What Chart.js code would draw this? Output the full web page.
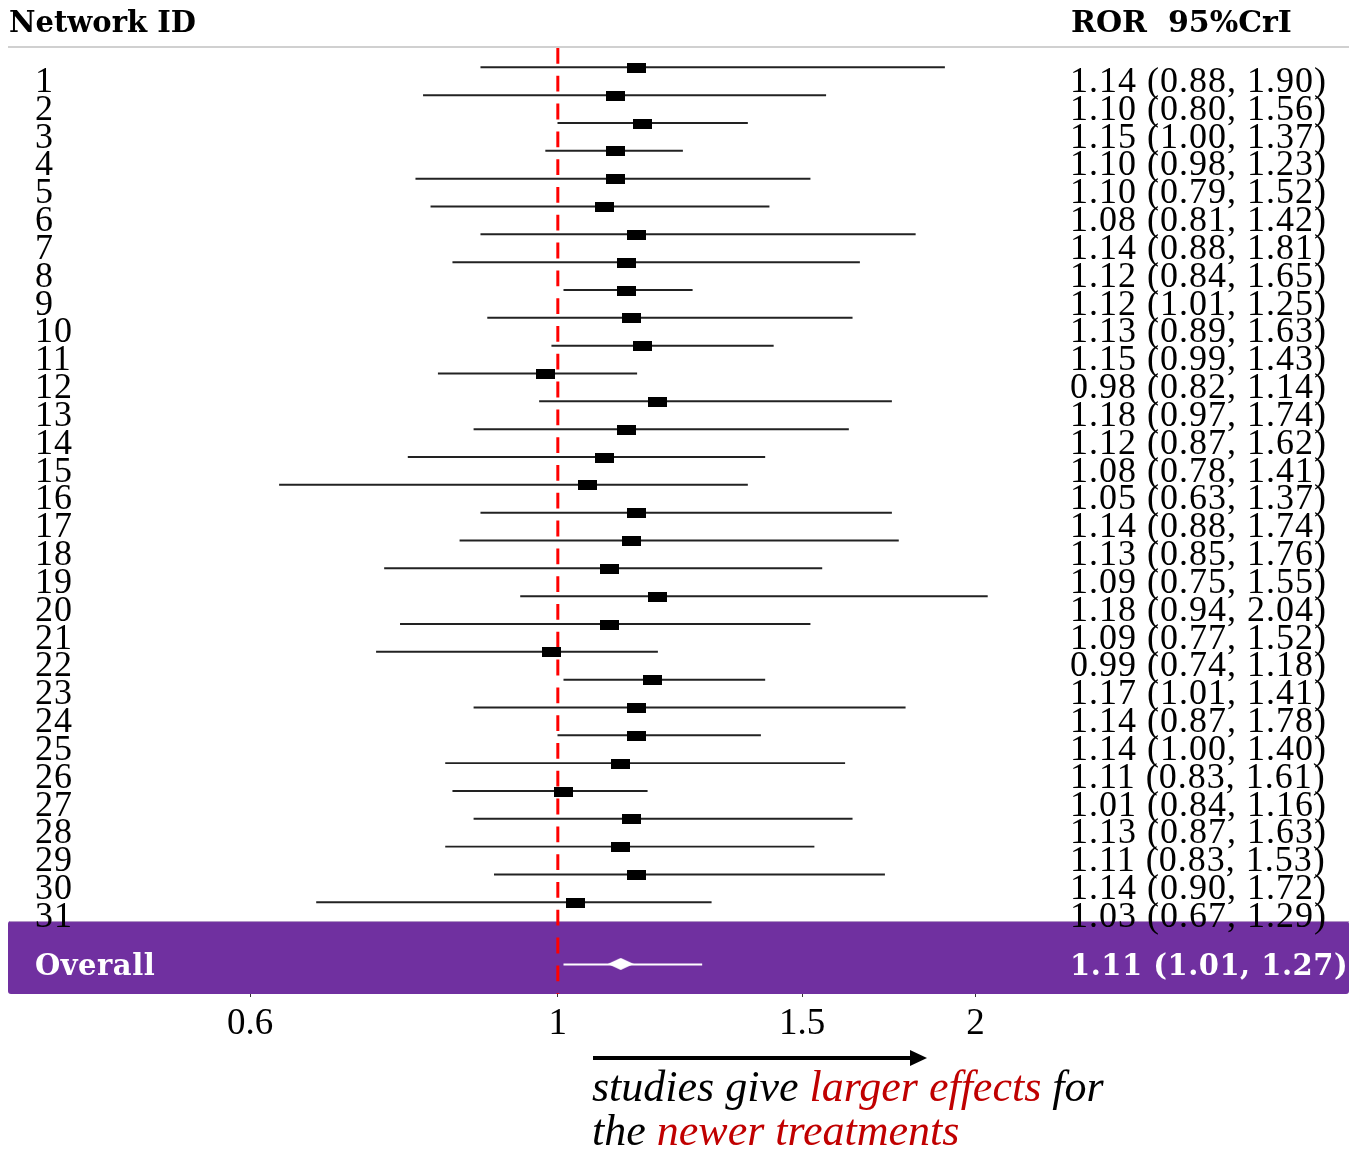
<!DOCTYPE html>
<html>
<head>
<meta charset="utf-8">
<script src="https://cdn.jsdelivr.net/npm/chart.js@4.4.0/dist/chart.umd.min.js"></script>
<style>
  html, body { margin: 0; padding: 0; background: #fff; }
</style>
</head>
<body>
<canvas id="forestChart" width="1349" height="1149"></canvas>
<script>
var networkIds = [1, 2, 3, 4, 5, 6, 7, 8, 9, 10, 11, 12, 13, 14, 15, 16,
                  17, 18, 19, 20, 21, 22, 23, 24, 25, 26, 27, 28, 29, 30, 31];
var rorValues = [1.14, 1.10, 1.15, 1.10, 1.10, 1.08, 1.14, 1.12, 1.12, 1.13, 1.15,
                 0.98, 1.18, 1.12, 1.08, 1.05, 1.14, 1.13, 1.09, 1.18, 1.09, 0.99,
                 1.17, 1.14, 1.14, 1.11, 1.01, 1.13, 1.11, 1.14, 1.03];
var criLower = [0.88, 0.80, 1.00, 0.98, 0.79, 0.81, 0.88, 0.84, 1.01, 0.89, 0.99,
                0.82, 0.97, 0.87, 0.78, 0.63, 0.88, 0.85, 0.75, 0.94, 0.77, 0.74,
                1.01, 0.87, 1.00, 0.83, 0.84, 0.87, 0.83, 0.90, 0.67];
var criUpper = [1.90, 1.56, 1.37, 1.23, 1.52, 1.42, 1.81, 1.65, 1.25, 1.63, 1.43,
                1.14, 1.74, 1.62, 1.41, 1.37, 1.74, 1.76, 1.55, 2.04, 1.52, 1.18,
                1.41, 1.78, 1.40, 1.61, 1.16, 1.63, 1.53, 1.72, 1.29];
var overallRor = 1.11;
var overallLower = 1.01;
var overallUpper = 1.27;
var xTickValues = [0.6, 1, 1.5, 2];

var overallRow = 33.19;

function fmt(v) { return v.toFixed(2); }

// marker images
function makeRect(w, h, color) {
  var c = document.createElement('canvas');
  c.width = w; c.height = h;
  var g = c.getContext('2d');
  g.fillStyle = color;
  g.fillRect(0, 0, w, h);
  return c;
}
function makeDiamond(w, h, color) {
  var c = document.createElement('canvas');
  c.width = w; c.height = h;
  var g = c.getContext('2d');
  g.fillStyle = color;
  g.beginPath();
  g.moveTo(0, h / 2); g.lineTo(w / 2, 0); g.lineTo(w, h / 2); g.lineTo(w / 2, h);
  g.closePath();
  g.fill();
  return c;
}
var squareMark = makeRect(19, 10, '#000');
var diamondMark = makeDiamond(26, 12, '#fff');

var ciData = networkIds.map(function (id, i) {
  return { x: [criLower[i], criUpper[i]], y: id };
});
var pointData = networkIds.map(function (id, i) {
  return { x: rorValues[i], y: id };
});

var forestDecor = {
  id: 'forestDecor',
  beforeDatasetsDraw: function (chart) {
    var ctx = chart.ctx, xs = chart.scales.x, ys = chart.scales.y;
    var top = ys.getPixelForValue(31.65), bot = ys.getPixelForValue(34.27);
    ctx.save();
    ctx.fillStyle = '#7030a0';
    ctx.beginPath();
    ctx.roundRect(8, top, 1349 - 8, bot - top, 3);
    ctx.fill();
    ctx.fillStyle = '#b49ac8';
    ctx.fillRect(10, top, 1339, 1);

    var x1 = xs.getPixelForValue(1);
    ctx.strokeStyle = '#ff0000';
    ctx.lineWidth = 3;
    ctx.setLineDash([15.8, 12]);
    ctx.beginPath();
    ctx.moveTo(x1, 48);
    ctx.lineTo(x1, bot);
    ctx.stroke();
    ctx.restore();
  },
  afterDraw: function (chart) {
    var ctx = chart.ctx, ys = chart.scales.y;
    ctx.save();
    // header
    ctx.fillStyle = '#000';
    ctx.textBaseline = 'alphabetic';
    ctx.textAlign = 'left';
    ctx.font = 'bold 29px "DejaVu Serif"';
    ctx.fillText('Network ID', 9, 32);
    ctx.font = 'bold 30px "DejaVu Serif"';
    ctx.fillText('ROR  95%CrI', 1071, 32);
    ctx.fillStyle = '#d0d0d0';
    ctx.fillRect(8, 46, 1341, 2);

    // row labels
    ctx.fillStyle = '#000';
    ctx.font = '36px "Liberation Serif"';
    ctx.letterSpacing = '1px';
    networkIds.forEach(function (id, i) {
      var py = ys.getPixelForValue(id) + 24;
      ctx.fillText(String(id), 35, py);
      ctx.fillText(fmt(rorValues[i]) + ' (' + fmt(criLower[i]) + ', ' + fmt(criUpper[i]) + ')', 1070, py);
    });

    // overall
    var oy = ys.getPixelForValue(overallRow) + 11;
    ctx.fillStyle = '#fff';
    ctx.font = 'bold 29px "DejaVu Serif"';
    ctx.letterSpacing = '0.5px';
    ctx.fillText('Overall', 35, oy);
    ctx.fillText(fmt(overallRor) + ' (' + fmt(overallLower) + ', ' + fmt(overallUpper) + ')', 1070, oy);
    ctx.letterSpacing = '0px';

    // arrow
    ctx.fillStyle = '#000';
    ctx.fillRect(593, 1056, 320, 4);
    ctx.beginPath();
    ctx.moveTo(910, 1050); ctx.lineTo(927, 1058); ctx.lineTo(910, 1066);
    ctx.closePath();
    ctx.fill();

    // caption
    var red = '#c00000';
    ctx.font = 'italic 44px "Liberation Serif"';
    var parts1 = [['studies give ', '#000'], ['larger effects', red], [' for', '#000']];
    var parts2 = [['the ', '#000'], ['newer treatments', red]];
    [[parts1, 1101], [parts2, 1145]].forEach(function (line) {
      var cx = 592;
      line[0].forEach(function (p) {
        ctx.fillStyle = p[1];
        ctx.fillText(p[0], cx, line[1]);
        cx += ctx.measureText(p[0]).width;
      });
    });
    ctx.restore();
  }
};

var forestPlot = new Chart(document.getElementById('forestChart'), {
  type: 'bar',
  data: {
    datasets: [{
      label: 'CrI',
      data: ciData,
      backgroundColor: '#222',
      borderWidth: 0,
      barThickness: 1.3,
      order: 2
    },
    {
      label: 'Overall CrI',
      data: [{ x: [overallLower, overallUpper], y: overallRow }],
      backgroundColor: '#fff',
      borderWidth: 0,
      barThickness: 1.3,
      order: 2
    },
    {
      type: 'scatter',
      label: 'ROR',
      data: pointData,
      pointStyle: squareMark,
      order: 1
    },
    {
      type: 'scatter',
      label: 'Overall ROR',
      data: [{ x: overallRor, y: overallRow }],
      pointStyle: diamondMark,
      order: 1
    }]
  },
  options: {
    indexAxis: 'y',
    responsive: false,
    animation: false,
    layout: { padding: { left: 8, right: 0, top: 47, bottom: 112 } },
    plugins: {
      legend: { display: false },
      tooltip: { enabled: false }
    },
    scales: {
      x: {
        type: 'logarithmic',
        min: 0.4015,
        max: 3.687,
        offset: false,
        border: { display: false },
        grid: {
          offset: false,
          drawOnChartArea: false,
          drawTicks: true,
          tickLength: 10,
          color: '#333',
          lineWidth: 1
        },
        afterBuildTicks: function (axis) {
          axis.ticks = xTickValues.map(function (v) { return { value: v }; });
        },
        afterFit: function (axis) { axis.height = 50; },
        ticks: {
          autoSkip: false,
          maxRotation: 0,
          padding: 5,
          color: '#000',
          font: { family: '"Liberation Serif"', size: 37 },
          callback: function (v) { return String(v); }
        }
      },
      y: {
        type: 'linear',
        reverse: true,
        min: 0.2455,
        max: 34.02,
        offset: false,
        display: false,
        grid: { offset: false }
      }
    }
  },
  plugins: [forestDecor]
});
</script>
</body>
</html>
